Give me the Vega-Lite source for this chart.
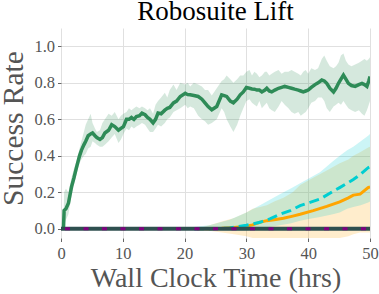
{
  "$schema": "https://vega.github.io/schema/vega-lite/v6.json",
  "autosize": "none",
  "width": 309,
  "height": 210,
  "padding": {"left": 61, "top": 28, "right": 9, "bottom": 56},
  "background": "white",
  "title": {"text": "Robosuite Lift", "font": "Liberation Serif, DejaVu Serif, serif", "fontSize": 27, "fontWeight": "normal", "color": "black", "anchor": "middle", "offset": 2},
  "config": {
    "view": {"stroke": null},
    "font": "Liberation Serif, DejaVu Serif, serif",
    "axis": {
      "labelFont": "Liberation Serif, DejaVu Serif, serif", "titleFont": "Liberation Serif, DejaVu Serif, serif",
      "labelFontSize": 16.5, "labelColor": "#555555", "titleColor": "#555555",
      "titleFontWeight": "normal", "domain": false, "tickColor": "#666666", "tickSize": 3.5, "labelPadding": 3,
      "gridColor": "#e0e0e0", "gridWidth": 1
    }
  },
  "datasets": {
    "green": [
      {"t":0.4,"m":0.0,"lo":0.0,"hi":0.0},{"t":0.5,"m":0.10,"lo":0.02,"hi":0.20},{"t":0.8,"m":0.11,"lo":0.05,"hi":0.22},{"t":1.2,"m":0.14,"lo":0.08,"hi":0.20},{"t":1.7,"m":0.23,"lo":0.18,"hi":0.28},{"t":2.1,"m":0.28,"lo":0.24,"hi":0.33},{"t":2.5,"m":0.335,"lo":0.30,"hi":0.37},{"t":3.0,"m":0.40,"lo":0.36,"hi":0.44},{"t":3.3,"m":0.43,"lo":0.38,"hi":0.48},{"t":3.7,"m":0.46,"lo":0.40,"hi":0.53},{"t":4.0,"m":0.48,"lo":0.41,"hi":0.57},{"t":4.4,"m":0.51,"lo":0.44,"hi":0.60},{"t":4.8,"m":0.52,"lo":0.45,"hi":0.63},{"t":5.1,"m":0.525,"lo":0.48,"hi":0.58},{"t":5.5,"m":0.51,"lo":0.47,"hi":0.55},{"t":5.8,"m":0.50,"lo":0.46,"hi":0.53},{"t":6.3,"m":0.49,"lo":0.45,"hi":0.54},{"t":6.7,"m":0.50,"lo":0.45,"hi":0.58},{"t":7.1,"m":0.525,"lo":0.46,"hi":0.60},{"t":7.7,"m":0.54,"lo":0.48,"hi":0.63},{"t":8.2,"m":0.57,"lo":0.50,"hi":0.62},{"t":8.7,"m":0.56,"lo":0.52,"hi":0.64},{"t":9.3,"m":0.54,"lo":0.47,"hi":0.60},{"t":9.7,"m":0.55,"lo":0.49,"hi":0.62},{"t":10.1,"m":0.56,"lo":0.52,"hi":0.63},{"t":10.6,"m":0.60,"lo":0.55,"hi":0.64},{"t":11.0,"m":0.60,"lo":0.54,"hi":0.66},{"t":11.4,"m":0.61,"lo":0.56,"hi":0.65},{"t":11.8,"m":0.60,"lo":0.55,"hi":0.66},{"t":12.2,"m":0.615,"lo":0.56,"hi":0.67},{"t":12.7,"m":0.62,"lo":0.57,"hi":0.66},{"t":13.1,"m":0.634,"lo":0.58,"hi":0.67},{"t":13.6,"m":0.625,"lo":0.57,"hi":0.66},{"t":14.0,"m":0.61,"lo":0.55,"hi":0.65},{"t":14.4,"m":0.60,"lo":0.53,"hi":0.66},{"t":14.9,"m":0.58,"lo":0.53,"hi":0.63},{"t":15.3,"m":0.60,"lo":0.55,"hi":0.68},{"t":15.7,"m":0.634,"lo":0.57,"hi":0.70},{"t":16.2,"m":0.63,"lo":0.56,"hi":0.72},{"t":16.8,"m":0.65,"lo":0.58,"hi":0.745},{"t":17.2,"m":0.66,"lo":0.60,"hi":0.72},{"t":17.6,"m":0.665,"lo":0.61,"hi":0.76},{"t":18.2,"m":0.69,"lo":0.64,"hi":0.79},{"t":18.7,"m":0.70,"lo":0.65,"hi":0.76},{"t":19.3,"m":0.725,"lo":0.66,"hi":0.80},{"t":20.1,"m":0.743,"lo":0.68,"hi":0.79},{"t":20.5,"m":0.735,"lo":0.66,"hi":0.80},{"t":20.9,"m":0.734,"lo":0.67,"hi":0.78},{"t":21.5,"m":0.73,"lo":0.66,"hi":0.80},{"t":22.2,"m":0.725,"lo":0.62,"hi":0.79},{"t":22.8,"m":0.71,"lo":0.60,"hi":0.78},{"t":23.3,"m":0.69,"lo":0.59,"hi":0.76},{"t":23.8,"m":0.67,"lo":0.57,"hi":0.76},{"t":24.4,"m":0.652,"lo":0.58,"hi":0.73},{"t":25.2,"m":0.67,"lo":0.60,"hi":0.77},{"t":26.0,"m":0.734,"lo":0.66,"hi":0.81},{"t":26.4,"m":0.73,"lo":0.64,"hi":0.82},{"t":26.8,"m":0.725,"lo":0.60,"hi":0.84},{"t":27.4,"m":0.70,"lo":0.56,"hi":0.82},{"t":27.9,"m":0.69,"lo":0.53,"hi":0.80},{"t":28.5,"m":0.71,"lo":0.57,"hi":0.82},{"t":29.0,"m":0.734,"lo":0.62,"hi":0.84},{"t":29.5,"m":0.75,"lo":0.66,"hi":0.84},{"t":30.0,"m":0.774,"lo":0.70,"hi":0.86},{"t":30.5,"m":0.77,"lo":0.71,"hi":0.87},{"t":30.9,"m":0.766,"lo":0.69,"hi":0.84},{"t":31.3,"m":0.765,"lo":0.68,"hi":0.86},{"t":31.7,"m":0.76,"lo":0.67,"hi":0.85},{"t":32.1,"m":0.76,"lo":0.70,"hi":0.83},{"t":32.5,"m":0.75,"lo":0.66,"hi":0.84},{"t":33.0,"m":0.76,"lo":0.68,"hi":0.86},{"t":33.3,"m":0.77,"lo":0.69,"hi":0.86},{"t":33.7,"m":0.755,"lo":0.66,"hi":0.84},{"t":34.1,"m":0.75,"lo":0.65,"hi":0.85},{"t":34.6,"m":0.76,"lo":0.64,"hi":0.86},{"t":35.2,"m":0.77,"lo":0.67,"hi":0.87},{"t":35.7,"m":0.775,"lo":0.70,"hi":0.85},{"t":36.2,"m":0.78,"lo":0.68,"hi":0.86},{"t":36.8,"m":0.775,"lo":0.66,"hi":0.86},{"t":37.3,"m":0.77,"lo":0.64,"hi":0.87},{"t":37.8,"m":0.765,"lo":0.63,"hi":0.86},{"t":38.4,"m":0.76,"lo":0.64,"hi":0.85},{"t":38.8,"m":0.755,"lo":0.62,"hi":0.84},{"t":39.2,"m":0.75,"lo":0.63,"hi":0.86},{"t":39.6,"m":0.755,"lo":0.64,"hi":0.87},{"t":40.0,"m":0.76,"lo":0.66,"hi":0.85},{"t":40.5,"m":0.775,"lo":0.69,"hi":0.88},{"t":41.1,"m":0.79,"lo":0.70,"hi":0.87},{"t":41.6,"m":0.80,"lo":0.72,"hi":0.88},{"t":42.2,"m":0.815,"lo":0.72,"hi":0.93},{"t":42.6,"m":0.81,"lo":0.70,"hi":0.95},{"t":43.0,"m":0.797,"lo":0.66,"hi":0.92},{"t":43.5,"m":0.77,"lo":0.64,"hi":0.89},{"t":44.1,"m":0.75,"lo":0.67,"hi":0.88},{"t":44.5,"m":0.77,"lo":0.68,"hi":0.89},{"t":44.9,"m":0.797,"lo":0.69,"hi":0.91},{"t":45.3,"m":0.82,"lo":0.68,"hi":0.95},{"t":45.7,"m":0.842,"lo":0.70,"hi":0.96},{"t":46.1,"m":0.82,"lo":0.68,"hi":0.92},{"t":46.5,"m":0.797,"lo":0.66,"hi":0.90},{"t":47.0,"m":0.785,"lo":0.65,"hi":0.89},{"t":47.6,"m":0.78,"lo":0.64,"hi":0.90},{"t":48.2,"m":0.79,"lo":0.65,"hi":0.91},{"t":48.7,"m":0.797,"lo":0.63,"hi":0.92},{"t":49.1,"m":0.79,"lo":0.62,"hi":0.93},{"t":49.5,"m":0.78,"lo":0.65,"hi":0.92},{"t":49.8,"m":0.81,"lo":0.68,"hi":0.93},{"t":50.0,"m":0.835,"lo":0.70,"hi":0.94}
    ],
    "orange": [
      {"t":22,"m":0,"lo":0,"hi":0},{"t":24,"m":0.0,"lo":-0.01,"hi":0.02},{"t":26,"m":0.003,"lo":-0.02,"hi":0.04},{"t":28,"m":0.008,"lo":-0.03,"hi":0.06},{"t":30,"m":0.015,"lo":-0.04,"hi":0.09},{"t":31,"m":0.022,"lo":-0.05,"hi":0.11},{"t":32.2,"m":0.036,"lo":-0.05,"hi":0.12},{"t":33.3,"m":0.045,"lo":-0.05,"hi":0.13},{"t":34.5,"m":0.05,"lo":-0.05,"hi":0.15},{"t":36,"m":0.058,"lo":-0.05,"hi":0.17},{"t":37.5,"m":0.07,"lo":-0.05,"hi":0.20},{"t":38.7,"m":0.08,"lo":-0.05,"hi":0.24},{"t":40.8,"m":0.10,"lo":-0.05,"hi":0.28},{"t":43,"m":0.123,"lo":-0.05,"hi":0.32},{"t":45.1,"m":0.148,"lo":-0.05,"hi":0.36},{"t":46.5,"m":0.17,"lo":-0.04,"hi":0.38},{"t":47.3,"m":0.185,"lo":-0.03,"hi":0.40},{"t":48.4,"m":0.19,"lo":-0.02,"hi":0.42},{"t":49.7,"m":0.226,"lo":-0.02,"hi":0.445},{"t":50,"m":0.23,"lo":-0.02,"hi":0.45}
    ],
    "cyan": [
      {"t":21.5,"m":0,"lo":0,"hi":0.01},{"t":24,"m":0.0,"lo":-0.005,"hi":0.02},{"t":27.3,"m":0.005,"lo":-0.01,"hi":0.05},{"t":30,"m":0.02,"lo":-0.01,"hi":0.09},{"t":32.2,"m":0.036,"lo":0.0,"hi":0.13},{"t":33.8,"m":0.055,"lo":0.01,"hi":0.16},{"t":35.4,"m":0.08,"lo":0.02,"hi":0.19},{"t":37.1,"m":0.10,"lo":0.03,"hi":0.22},{"t":38.7,"m":0.127,"lo":0.045,"hi":0.25},{"t":40.3,"m":0.145,"lo":0.055,"hi":0.28},{"t":41.9,"m":0.163,"lo":0.065,"hi":0.31},{"t":44,"m":0.205,"lo":0.08,"hi":0.37},{"t":45.1,"m":0.226,"lo":0.09,"hi":0.40},{"t":46.3,"m":0.25,"lo":0.11,"hi":0.43},{"t":47.3,"m":0.27,"lo":0.12,"hi":0.45},{"t":48.5,"m":0.30,"lo":0.13,"hi":0.48},{"t":49.7,"m":0.335,"lo":0.145,"hi":0.51},{"t":50,"m":0.34,"lo":0.15,"hi":0.52}
    ],
    "zero": [{"t":0,"m":0},{"t":50,"m":0}]
  },
  "encoding": {
    "x": {"field": "t", "type": "quantitative", "scale": {"domain": [0, 50], "nice": false, "zero": false},
          "axis": {"title": "Wall Clock Time (hrs)", "titleFontSize": 28, "values": [0,10,20,30,40,50], "labelPadding": 4, "titlePadding": 2, "labelFlush": false}},
    "y": {"field": "m", "type": "quantitative", "scale": {"domain": [-0.05, 1.1], "nice": false, "zero": false},
          "axis": {"title": "Success Rate", "titleFontSize": 29.5, "titleY": 100, "values": [0,0.2,0.4,0.6,0.8,1.0], "format": ".1f", "titlePadding": 5}}
  },
  "layer": [
    {"data": {"name": "green"}, "mark": {"type": "area", "color": "#2E8B57", "opacity": 0.2, "clip": true}, "encoding": {"y": {"field": "lo", "type": "quantitative"}, "y2": {"field": "hi"}}},
    {"data": {"name": "orange"}, "mark": {"type": "area", "color": "#FFA500", "opacity": 0.2, "clip": true}, "encoding": {"y": {"field": "lo", "type": "quantitative"}, "y2": {"field": "hi"}}},
    {"data": {"name": "cyan"}, "mark": {"type": "area", "color": "#00CED1", "opacity": 0.2, "clip": true}, "encoding": {"y": {"field": "lo", "type": "quantitative"}, "y2": {"field": "hi"}}},
    {"data": {"name": "green"}, "mark": {"type": "line", "color": "#2E8B57", "strokeWidth": 3.5, "clip": true}, "encoding": {}},
    {"data": {"name": "orange"}, "mark": {"type": "line", "color": "#FFA500", "strokeWidth": 3, "clip": true}, "encoding": {}},
    {"data": {"name": "cyan"}, "mark": {"type": "line", "color": "#00CED1", "strokeWidth": 3, "strokeDash": [10, 5], "clip": true}, "encoding": {}},
    {"data": {"name": "zero"}, "mark": {"type": "line", "color": "#2F4F4F", "strokeWidth": 4, "clip": true}, "encoding": {}},
    {"data": {"name": "zero"}, "mark": {"type": "line", "color": "#800080", "strokeWidth": 3, "strokeDash": [5, 13.5], "strokeDashOffset": -4, "clip": true}, "encoding": {}}
  ]
}
